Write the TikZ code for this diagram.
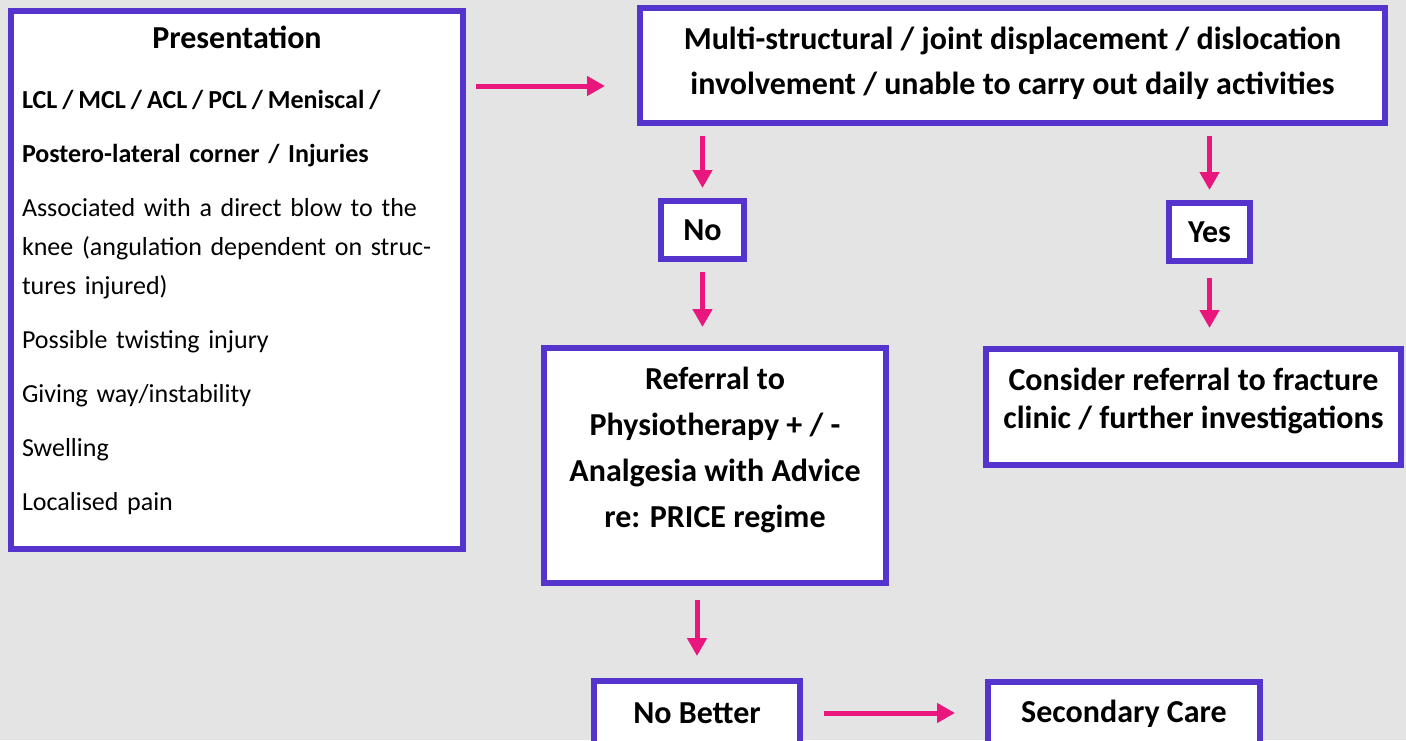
\documentclass[tikz,border=0pt]{standalone}
\usepackage{fontspec}
\setmainfont{Carlito}
\usepackage{tikz}
\usetikzlibrary{positioning,arrows.meta,calc}

\definecolor{boxpurple}{RGB}{85,51,205}
\definecolor{flowpink}{RGB}{233,23,125}
\definecolor{bggray}{RGB}{228,228,228}

\tikzset{
  box/.style={draw=boxpurple, line width=3pt, fill=white, align=center, inner sep=4pt,
              font=\fontsize{16}{19}\selectfont\bfseries},
  flow/.style={-{Triangle[length=9pt,width=9.5pt]}, line width=2.5pt, draw=flowpink,
               shorten <=5pt, shorten >=5pt},
}

\begin{document}
\begin{tikzpicture}[x=0.5pt, y=-0.5pt]
    \fill[bggray] (0,0) rectangle (1406,740);
    \useasboundingbox (0,0) rectangle (1406,740);
    % left column
    \node[box, align=left, minimum width=226pt, minimum height=269pt,
          text width=215pt, inner xsep=5.5pt,
          font=\fontsize{13}{19.5}\selectfont]
      (pres) at (237,280) {
        \makebox[\linewidth]{\fontsize{16}{19.5}\selectfont\bfseries Presentation}\\[10.5pt]
        {\bfseries\spaceskip=0.19em\relax LCL / MCL / ACL / PCL / Meniscal /}\\[7.5pt]
        \textbf{Postero-lateral corner / Injuries}\\[7.5pt]
        Associated with a direct blow to the\\
        knee (angulation dependent on struc-\\
        tures injured)\\[7.5pt]
        Possible twisting injury\\[7.5pt]
        Giving way/instability\\[7.5pt]
        Swelling\\[7.5pt]
        Localised pain\\[-7.5pt]\mbox{}};
    % decision boxes
    \node[box, minimum width=372.5pt, minimum height=57.5pt,
          font=\fontsize{16}{22.5}\selectfont\bfseries]
      (multi) at (1012.5,65.5) {Multi-structural / joint displacement / dislocation\\
        involvement / unable to carry out daily activities\\[-17.5pt]};
    \node[box, minimum width=41.5pt, minimum height=29pt] (no) at (702.5,230) {No};
    \node[box, minimum width=40.5pt, minimum height=29pt] (yes) at (1209.5,232) {Yes};
    \node[box, minimum width=171pt, minimum height=117.5pt,
          font=\fontsize{16}{23}\selectfont\bfseries]
      (physio) at (715,465.5) {Referral to\\ Physiotherapy + / -\\
        Analgesia with Advice\\ re: PRICE regime\\[-5pt]};
    \node[box, minimum width=207.5pt, minimum height=58pt]
      (fracture) at (1193.5,407) {Consider referral to fracture\\
        clinic / further investigations\\[-10pt]};
    \node[box, minimum width=103pt, minimum height=32pt] (nobetter) at (697,713) {No Better};
    \node[box, minimum width=136pt, minimum height=32pt] (secondary) at (1124,714) {Secondary Care};
    % connectors
    \draw[flow, shorten >=16pt] ([yshift=-10.25pt]multi.west -| pres.east)
      -- ([yshift=-10.25pt]multi.west);
    \draw[flow] (multi.south -| no.north) -- (no.north);
    \draw[flow, shorten >=9pt] (no.south) -- (no.south |- physio.north);
    \draw[flow] (multi.south -| yes.north) -- (yes.north);
    \draw[flow, shorten <=7pt, shorten >=9pt] (yes.south) -- (yes.south |- fracture.north);
    \draw[flow, shorten <=7pt, shorten >=11pt] (physio.south -| nobetter.north) -- (nobetter.north);
    \draw[flow, shorten <=10.5pt, shorten >=15pt] (nobetter.east) -- (nobetter.east -| secondary.west);
\end{tikzpicture}
\end{document}
